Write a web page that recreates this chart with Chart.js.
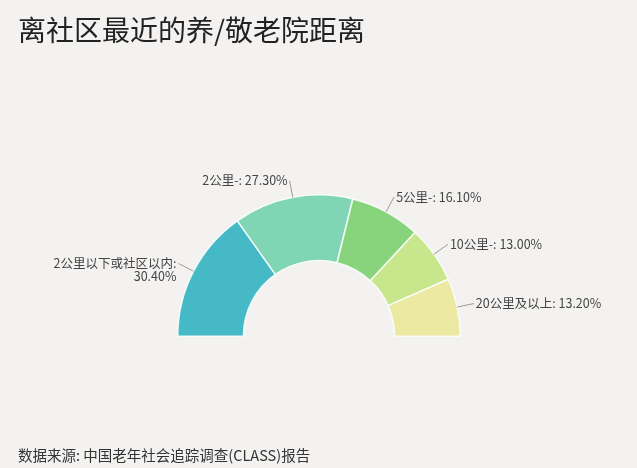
<!DOCTYPE html>
<html>
<head>
<meta charset="utf-8">
<script src="https://cdn.jsdelivr.net/npm/chart.js@4/dist/chart.umd.min.js"></script>
<style>
  html, body { margin: 0; padding: 0; background: #f3f2f1; }
  #wrap { position: relative; width: 637px; height: 468px; overflow: hidden; }
  #title {
    position: absolute; left: 18px; top: 9px;
    font: 28px "Noto Sans CJK SC", sans-serif; color: #222;
    white-space: nowrap;
  }
  #source {
    position: absolute; left: 18px; top: 444px;
    font: 14.5px "Noto Sans CJK SC", sans-serif; color: #333;
    white-space: nowrap;
  }
  canvas { position: absolute; left: 0; top: 0; }
</style>
</head>
<body>
<div id="wrap">
  <canvas id="chart" width="637" height="468"></canvas>
  <div id="title">离社区最近的养/敬老院距离</div>
  <div id="source">数据来源: 中国老年社会追踪调查(CLASS)报告</div>
</div>
<script>
// data
const categories = ["2公里以下或社区以内", "2公里-", "5公里-", "10公里-", "20公里及以上"];
const shares = [30.4, 27.3, 16.1, 13.0, 13.2];
const sliceColors = ["#46b9c7", "#7fd5b6", "#88d47c", "#c8e68b", "#ece9a2"];

/* ===============================
   OUTSIDE LABELS WITH LEADER LINES
================================ */
const sliceLabels = {
  id: "sliceLabels",
  afterDatasetsDraw(chart) {
    const ctx = chart.ctx;
    const arcs = chart.getDatasetMeta(0).data;
    ctx.save();
    ctx.font = '12.5px "Noto Sans CJK SC", sans-serif';
    ctx.textBaseline = "middle";

    arcs.forEach((arc, i) => {
      const { x, y, startAngle, endAngle, outerRadius } =
        arc.getProps(["x", "y", "startAngle", "endAngle", "outerRadius"], true);
      const mid = (startAngle + endAngle) / 2;
      const cos = Math.cos(mid), sin = Math.sin(mid);
      const x1 = x + cos * outerRadius, y1 = y + sin * outerRadius;
      const x2 = x + cos * (outerRadius + 17), y2 = y + sin * (outerRadius + 17);

      ctx.strokeStyle = "#9a9a9a";
      ctx.lineWidth = 1;
      ctx.beginPath();
      ctx.moveTo(x1, y1);
      ctx.lineTo(x2, y2);
      ctx.stroke();

      const left = cos < 0;
      ctx.textAlign = left ? "right" : "left";
      ctx.fillStyle = "#444";
      const tx = left ? x2 - 2 : x2 + 2;
      const name = categories[i] + ":";
      const pct = shares[i].toFixed(2) + "%";

      // long names are broken onto two lines
      if (ctx.measureText(name + " " + pct).width > 140) {
        ctx.fillText(name, tx, y2);
        ctx.fillText(pct, tx, y2 + 13);
      } else {
        ctx.fillText(name + " " + pct, tx, y2);
      }
    });
    ctx.restore();
  }
};

new Chart(document.getElementById("chart"), {
  type: "doughnut",
  data: {
    labels: categories,
    datasets: [{
      data: shares,
      backgroundColor: sliceColors,
      borderColor: "rgba(250,255,252,0.9)",
      borderWidth: 1.5
    }]
  },
  options: {
    responsive: false,
    animation: false,
    rotation: -90,
    circumference: 180,
    cutout: "53.5%",
    layout: { padding: { left: 177, right: 176, top: 194, bottom: 131 } },
    plugins: {
      legend: { display: false },
      tooltip: { enabled: false },
      title: { display: false }
    }
  },
  plugins: [sliceLabels]
});
</script>
</body>
</html>
